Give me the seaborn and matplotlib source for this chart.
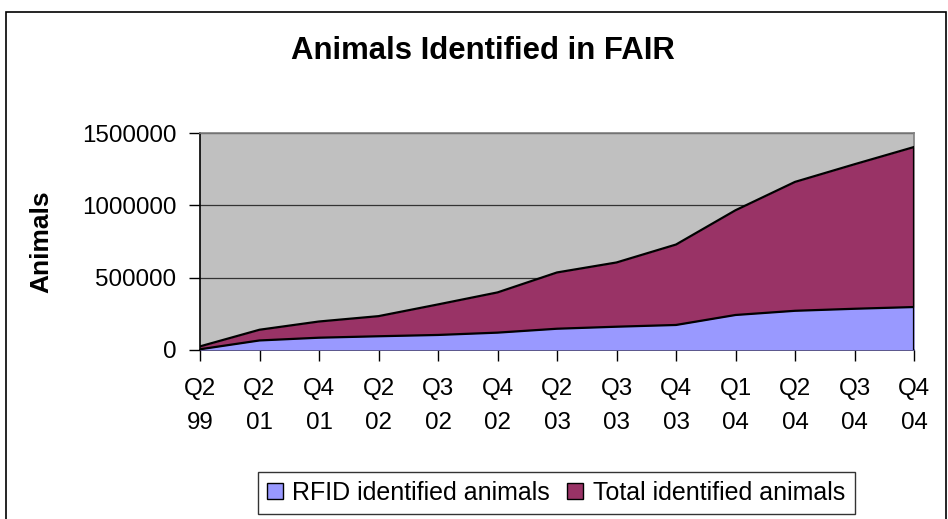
import matplotlib
matplotlib.use("Agg")
import matplotlib.pyplot as plt
import seaborn as sns
import pandas as pd
import numpy as np
from matplotlib.patches import Rectangle, Patch

quarters = ["Q2\n99", "Q2\n01", "Q4\n01", "Q2\n02", "Q3\n02", "Q4\n02", "Q2\n03",
            "Q3\n03", "Q4\n03", "Q1\n04", "Q2\n04", "Q3\n04", "Q4\n04"]
rfid = [5000, 66000, 85000, 95000, 104000, 120000, 147000, 161000, 173000,
        242000, 271000, 285000, 297000]
total = [25000, 140000, 197000, 234000, 315000, 398000, 536000, 605000, 729000,
         966000, 1162000, 1284000, 1403000]
yticks = [0, 500000, 1000000, 1500000]

sns.set_theme(style="white")
plt.rcParams['font.family'] = ['Liberation Sans', 'DejaVu Sans']
plt.rcParams['text.color'] = 'black'
plt.rcParams['axes.labelcolor'] = 'black'
plt.rcParams['xtick.color'] = 'black'
plt.rcParams['ytick.color'] = 'black'

C_RFID = "#9999FF"
C_TOTAL = "#993366"
C_BG = "#C0C0C0"

df = pd.DataFrame({"x": np.arange(len(quarters)), "rfid": rfid, "total": total})

fig = plt.figure(figsize=(9.48, 5.19), dpi=100)
ax = fig.add_axes([200/948, 1-350/519, 714/948, 217/519])
ax.set_facecolor(C_BG)

# outer chart border
fig.patches.append(Rectangle((6/948, -0.1), 940/948, 1.1 - 12/519, transform=fig.transFigure,
                             fill=False, edgecolor="black", linewidth=1.2))

for v in yticks[1:]:
    ax.axhline(v, color="#333333", linewidth=0.9, zorder=1)

ax.fill_between(df["x"], 0, df["total"], color=C_TOTAL, zorder=2, linewidth=0)
ax.fill_between(df["x"], 0, df["rfid"], color=C_RFID, zorder=3, linewidth=0)
sns.lineplot(data=df, x="x", y="total", color="black", linewidth=1.6, ax=ax, zorder=4)
sns.lineplot(data=df, x="x", y="rfid", color="black", linewidth=1.6, ax=ax, zorder=5)
ax.plot([len(quarters)-1, len(quarters)-1], [0, total[-1]], color="black", linewidth=1.6, zorder=5)

ax.set_xlim(0, len(quarters)-1)
ax.set_ylim(0, 1500000)
ax.set_xticks(df["x"])
ax.set_xticklabels(quarters, fontsize=17.4, linespacing=1.7)
ax.set_yticks(yticks)
ax.set_yticklabels([str(v) for v in yticks], fontsize=17.4)
ax.tick_params(axis="x", direction="out", length=8, width=1, color="black", pad=12, bottom=True)
ax.tick_params(axis="y", direction="out", length=8, width=1, color="black", pad=9, left=True)

ax.set_xlabel("")
ax.set_ylabel("Animals", fontsize=19, fontweight="bold")
ax.yaxis.set_label_coords(-0.205, 0.5)

for s in ["left", "bottom"]:
    ax.spines[s].set_color("black")
    ax.spines[s].set_linewidth(1.2)
for s in ["top", "right"]:
    ax.spines[s].set_color("#808080")
    ax.spines[s].set_linewidth(1.2)

fig.text(483/948, 1-51/519, "Animals Identified in FAIR", ha="center", va="center",
         fontsize=22.4, fontweight="bold")

handles = [Patch(facecolor=C_RFID, edgecolor="black", linewidth=1),
           Patch(facecolor=C_TOTAL, edgecolor="black", linewidth=1)]
leg = fig.legend(handles, ["RFID identified animals", "Total identified animals"],
                 loc="center", bbox_to_anchor=(556/948, 1-493/519), ncol=2,
                 fontsize=18, frameon=True, fancybox=False, handlelength=0.64,
                 handleheight=0.6, handletextpad=0.4, columnspacing=0.68,
                 borderpad=0.36, borderaxespad=0)
leg.get_frame().set_edgecolor("black")
leg.get_frame().set_linewidth(1.0)

fig.savefig("out.png", dpi=100)
